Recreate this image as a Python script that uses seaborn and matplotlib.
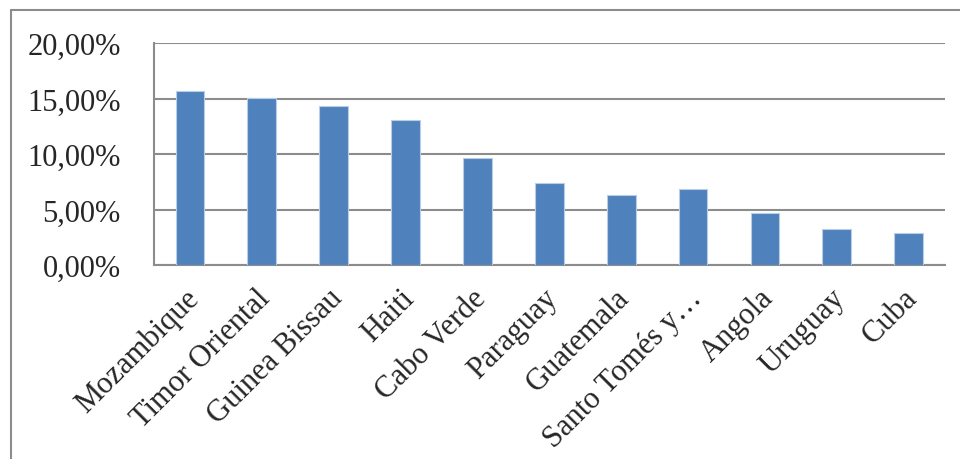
import matplotlib
matplotlib.use("Agg")
import matplotlib.pyplot as plt
from matplotlib.ticker import FuncFormatter
from matplotlib.lines import Line2D
from matplotlib.transforms import ScaledTranslation
import pandas as pd
import seaborn as sns

# values (percent)
countries = ["Mozambique", "Timor Oriental", "Guinea Bissau", "Haiti", "Cabo Verde",
             "Paraguay", "Guatemala", "Santo Tomés y…", "Angola", "Uruguay", "Cuba"]
shares = [15.69, 15.06, 14.37, 13.08, 9.67, 7.43, 6.29, 6.86, 4.73, 3.23, 2.87]

df = pd.DataFrame({"Pais": countries, "Porcentaje": shares})

sns.set_style("white")
plt.rcParams["font.family"] = ["Liberation Serif", "DejaVu Serif"]

fig = plt.figure(figsize=(9.6, 4.6), dpi=100)
ax = fig.add_axes([0.1604, 0.4217, 0.8236, 0.4826])

sns.barplot(data=df, x="Pais", y="Porcentaje", color="#4F81BD", saturation=1,
            width=0.4, edgecolor="#B9CDE5", linewidth=0.8, ax=ax, zorder=3)

ax.set_ylim(0, 20)
ax.set_yticks([0, 5, 10, 15, 20])
ax.yaxis.set_major_formatter(FuncFormatter(lambda v, p: f"{v:.2f}%".replace(".", ",")))
ax.grid(axis="y", color="#8C8C8C", linewidth=1.5, zorder=0)
ax.set_axisbelow(True)

for side in ["top", "right"]:
    ax.spines[side].set_visible(False)
for side in ["left", "bottom"]:
    ax.spines[side].set_color("#8C8C8C")
    ax.spines[side].set_linewidth(1.5)

ax.set_xlabel("")
ax.set_ylabel("")
ax.tick_params(axis="y", length=0, pad=24, labelsize=22)
ax.tick_params(axis="x", length=0, pad=13, labelsize=22)
offset = ScaledTranslation(-6 / 100, 0, fig.dpi_scale_trans)
for lbl in ax.get_xticklabels():
    lbl.set_rotation(45)
    lbl.set_ha("right")
    lbl.set_rotation_mode("anchor")
    lbl.set_transform(lbl.get_transform() + offset)

# outer chart frame
fig.add_artist(Line2D([11 / 960, 11 / 960], [0, 1 - 11 / 460], color="#8C8C8C", linewidth=1.5))
fig.add_artist(Line2D([11 / 960, 1], [1 - 11 / 460, 1 - 11 / 460], color="#8C8C8C", linewidth=1.5))

fig.savefig("out.png", dpi=100)
